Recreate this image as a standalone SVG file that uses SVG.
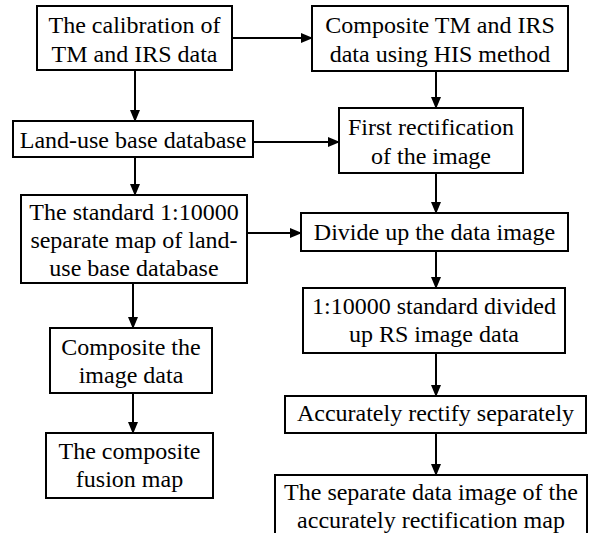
<svg xmlns="http://www.w3.org/2000/svg" width="589" height="533" viewBox="0 0 589 533">
<defs>
<marker id="ah" markerUnits="userSpaceOnUse" markerWidth="12" markerHeight="10" refX="11" refY="5" orient="auto">
<path d="M0,0 L12,5 L0,10 z" fill="#000"/>
</marker>
</defs>
<rect width="589" height="533" fill="#fff"/>
<g id="connectors" stroke="#000" stroke-width="2" marker-end="url(#ah)">
<line x1="232" y1="38" x2="312" y2="38"/>
<line x1="135" y1="70" x2="135" y2="121"/>
<line x1="436" y1="71" x2="436" y2="108"/>
<line x1="253" y1="142" x2="339" y2="142"/>
<line x1="135" y1="157" x2="135" y2="195"/>
<line x1="436" y1="173" x2="436" y2="213"/>
<line x1="247" y1="233" x2="301" y2="233"/>
<line x1="436" y1="251" x2="436" y2="288"/>
<line x1="133" y1="283" x2="133" y2="328"/>
<line x1="133" y1="393" x2="133" y2="433"/>
<line x1="436" y1="353" x2="436" y2="396"/>
<line x1="436" y1="433" x2="436" y2="475"/>
</g>
<g id="n1"><rect fill="#fff" stroke="#000" stroke-width="2" x="37" y="6" width="195" height="64"/><text font-family="Times New Roman" font-size="24" text-anchor="middle" x="134.5" y="33">The calibration of</text><text font-family="Times New Roman" font-size="24" text-anchor="middle" x="134.5" y="62">TM and IRS data</text></g>
<g id="n2"><rect fill="#fff" stroke="#000" stroke-width="2" x="312" y="6" width="256" height="65"/><text font-family="Times New Roman" font-size="24" text-anchor="middle" x="440" y="33">Composite TM and IRS</text><text font-family="Times New Roman" font-size="24" text-anchor="middle" x="440" y="62">data using HIS method</text></g>
<g id="n3"><rect fill="#fff" stroke="#000" stroke-width="2" x="13" y="121" width="240" height="36"/><text font-family="Times New Roman" font-size="24" text-anchor="middle" x="133" y="148">Land-use base database</text></g>
<g id="n4"><rect fill="#fff" stroke="#000" stroke-width="2" x="339" y="108" width="184" height="65"/><text font-family="Times New Roman" font-size="24" text-anchor="middle" x="431" y="135">First rectification</text><text font-family="Times New Roman" font-size="24" text-anchor="middle" x="431" y="164">of the image</text></g>
<g id="n5"><rect fill="#fff" stroke="#000" stroke-width="2" x="21" y="195" width="226" height="88"/><text font-family="Times New Roman" font-size="24" text-anchor="middle" x="134" y="220">The standard 1:10000</text><text font-family="Times New Roman" font-size="24" text-anchor="middle" x="134" y="248">separate map of land-</text><text font-family="Times New Roman" font-size="24" text-anchor="middle" x="134" y="276">use base database</text></g>
<g id="n6"><rect fill="#fff" stroke="#000" stroke-width="2" x="301" y="213" width="267" height="38"/><text font-family="Times New Roman" font-size="24" text-anchor="middle" x="434.5" y="240">Divide up the data image</text></g>
<g id="n7"><rect fill="#fff" stroke="#000" stroke-width="2" x="303" y="288" width="262" height="65"/><text font-family="Times New Roman" font-size="24" text-anchor="middle" x="434" y="314">1:10000 standard divided</text><text font-family="Times New Roman" font-size="24" text-anchor="middle" x="434" y="342">up RS image data</text></g>
<g id="n8"><rect fill="#fff" stroke="#000" stroke-width="2" x="50" y="328" width="162" height="65"/><text font-family="Times New Roman" font-size="24" text-anchor="middle" x="131" y="355">Composite the</text><text font-family="Times New Roman" font-size="24" text-anchor="middle" x="131" y="383">image data</text></g>
<g id="n9"><rect fill="#fff" stroke="#000" stroke-width="2" x="285" y="396" width="301" height="37"/><text font-family="Times New Roman" font-size="24" text-anchor="middle" x="435.5" y="421">Accurately rectify separately</text></g>
<g id="n10"><rect fill="#fff" stroke="#000" stroke-width="2" x="46" y="433" width="167" height="65"/><text font-family="Times New Roman" font-size="24" text-anchor="middle" x="129.5" y="459">The composite</text><text font-family="Times New Roman" font-size="24" text-anchor="middle" x="129.5" y="487">fusion map</text></g>
<g id="n11"><rect fill="#fff" stroke="#000" stroke-width="2" x="275" y="475" width="312" height="70"/><text font-family="Times New Roman" font-size="24" text-anchor="middle" x="431" y="500">The separate data image of the</text><text font-family="Times New Roman" font-size="24" text-anchor="middle" x="431" y="528">accurately rectification map</text></g>
</svg>
